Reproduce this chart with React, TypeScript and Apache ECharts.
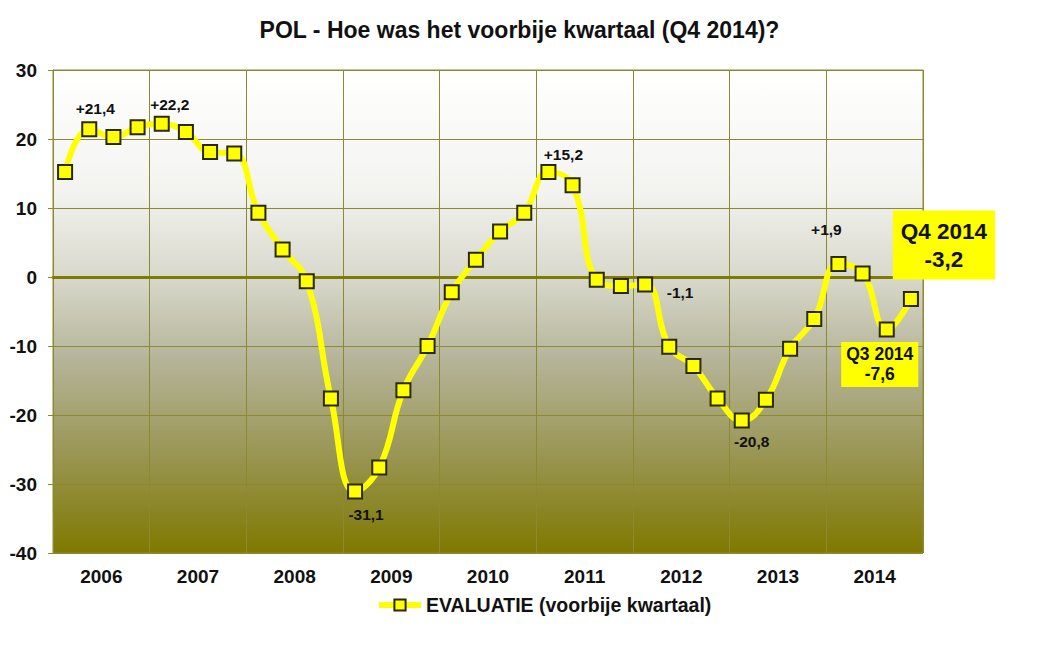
import React, { useEffect, useRef } from "react";
import * as echarts from "echarts";

const years = ["2006", "2007", "2008", "2009", "2010", "2011", "2012", "2013", "2014"];
const quarters = years.flatMap((y) => ["Q1", "Q2", "Q3", "Q4"].map((q) => `${q} ${y}`));
const values = [
  15.2, 21.4, 20.3, 21.7,
  22.2, 21.0, 18.1, 17.9,
  9.3, 4.0, -0.6, -17.6,
  -31.1, -27.6, -16.4, -10.0,
  -2.2, 2.5, 6.6, 9.3,
  15.2, 13.3, -0.4, -1.3,
  -1.1, -10.1, -12.9, -17.6,
  -20.8, -17.8, -10.4, -6.1,
  1.9, 0.5, -7.6, -3.2,
];
const seriesName = "EVALUATIE (voorbije kwartaal)";
const titleText = "POL - Hoe was het voorbije kwartaal (Q4 2014)?";
// annotated points: index -> [text, dx, dy]
const annotations: Record<number, [string, number, number]> = {
  1: ["+21,4", 6, -21],
  4: ["+22,2", 8, -19],
  12: ["-31,1", 11, 23],
  20: ["+15,2", 15, -18],
  24: ["-1,1", 35, 8],
  28: ["-20,8", 10, 21],
  32: ["+1,9", -12, -34],
};

const FONT = 'Arial, "Liberation Sans", sans-serif';
const OLIVE = "#8c8a2e";

export default function App() {
  const ref = useRef<HTMLDivElement>(null);
  useEffect(() => {
    if (!ref.current) return;
    const chart = echarts.init(ref.current, undefined, { renderer: "svg" });
    const data = values.map((v, i) => {
      const item: any = { value: v };
      if (annotations[i]) {
        const [t, dx, dy] = annotations[i];
        item.label = {
          show: true,
          position: "inside",
          offset: [dx, dy],
          formatter: t,
          fontSize: 15.5,
          fontWeight: "bold",
          color: "#111",
          fontFamily: FONT,
        };
      }
      if (i === 34) {
        item.label = {
          show: true,
          position: "inside",
          offset: [-7, 35],
          formatter: "Q3 2014\n-7,6",
          fontSize: 17.5,
          lineHeight: 20,
          fontWeight: "bold",
          color: "#111",
          fontFamily: FONT,
          backgroundColor: "#ffff00",
          padding: [3, 5, 2, 5],
        };
      }
      if (i === 35) {
        item.label = {
          show: true,
          position: "inside",
          offset: [33, -54],
          formatter: "Q4 2014\n-3,2",
          fontSize: 22.5,
          lineHeight: 28,
          fontWeight: "bold",
          color: "#111",
          fontFamily: FONT,
          backgroundColor: "#ffff00",
          padding: [7, 8, 6, 8],
        };
      }
      return item;
    });
    chart.setOption({
      animation: false,
      backgroundColor: "#ffffff",
      textStyle: { fontFamily: FONT },
      title: {
        text: titleText,
        left: "center",
        top: 13,
        textStyle: { fontSize: 23, fontWeight: "bold", color: "#111", fontFamily: FONT },
      },
      legend: {
        data: [seriesName],
        left: 371,
        top: 590,
        itemWidth: 42,
        itemHeight: 14,
        lineStyle: { width: 6 },
        textStyle: { fontSize: 19.5, fontWeight: "bold", color: "#111", fontFamily: FONT },
      },
      grid: {
        left: 53,
        right: 116,
        top: 70,
        bottom: 116,
        show: true,
        borderColor: OLIVE,
        borderWidth: 1,
        backgroundColor: {
          type: "linear",
          x: 0,
          y: 0,
          x2: 0,
          y2: 1,
          colorStops: [
            { offset: 0, color: "#ffffff" },
            { offset: 0.25, color: "#f3f3f0" },
            { offset: 0.43, color: "#d8d8cc" },
            { offset: 0.6, color: "#b5b499" },
            { offset: 0.8, color: "#999552" },
            { offset: 1, color: "#7f7900" },
          ],
        },
      },
      xAxis: [
        {
          type: "category",
          data: quarters,
          boundaryGap: true,
          position: "bottom",
          axisLine: { show: true, onZero: true, lineStyle: { color: "#7f7a00", width: 3 } },
          axisTick: { show: false },
          axisLabel: { show: false },
          splitLine: { show: false },
        },
        {
          type: "category",
          data: years,
          boundaryGap: true,
          position: "bottom",
          axisLine: { show: false, onZero: false },
          axisTick: { show: false },
          axisLabel: { show: true, margin: 14, fontSize: 19, fontWeight: "bold", color: "#111", fontFamily: FONT },
          splitLine: { show: true, lineStyle: { color: OLIVE, width: 1 } },
        },
      ],
      yAxis: {
        type: "value",
        min: -40,
        max: 30,
        interval: 10,
        axisLine: { show: true, lineStyle: { color: OLIVE } },
        axisTick: { show: true, length: 5, lineStyle: { color: OLIVE } },
        axisLabel: { margin: 16, fontSize: 19, fontWeight: "bold", color: "#111", fontFamily: FONT },
        splitLine: { show: true, lineStyle: { color: OLIVE, width: 1 } },
      },
      series: [
        {
          name: seriesName,
          type: "line",
          xAxisIndex: 0,
          data,
          smooth: 0.45,
          symbol: "rect",
          symbolSize: 14,
          lineStyle: { color: "#ffff00", width: 6 },
          itemStyle: { color: "#ffff00", borderColor: "#2a2a00", borderWidth: 2 },
          label: { show: false },
          z: 5,
        },
      ],
    });
    return () => chart.dispose();
  }, []);
  return (
    <div
      ref={ref}
      style={{ position: "fixed", left: 0, top: 0, width: 1039, height: 669 }}
    />
  );
}
